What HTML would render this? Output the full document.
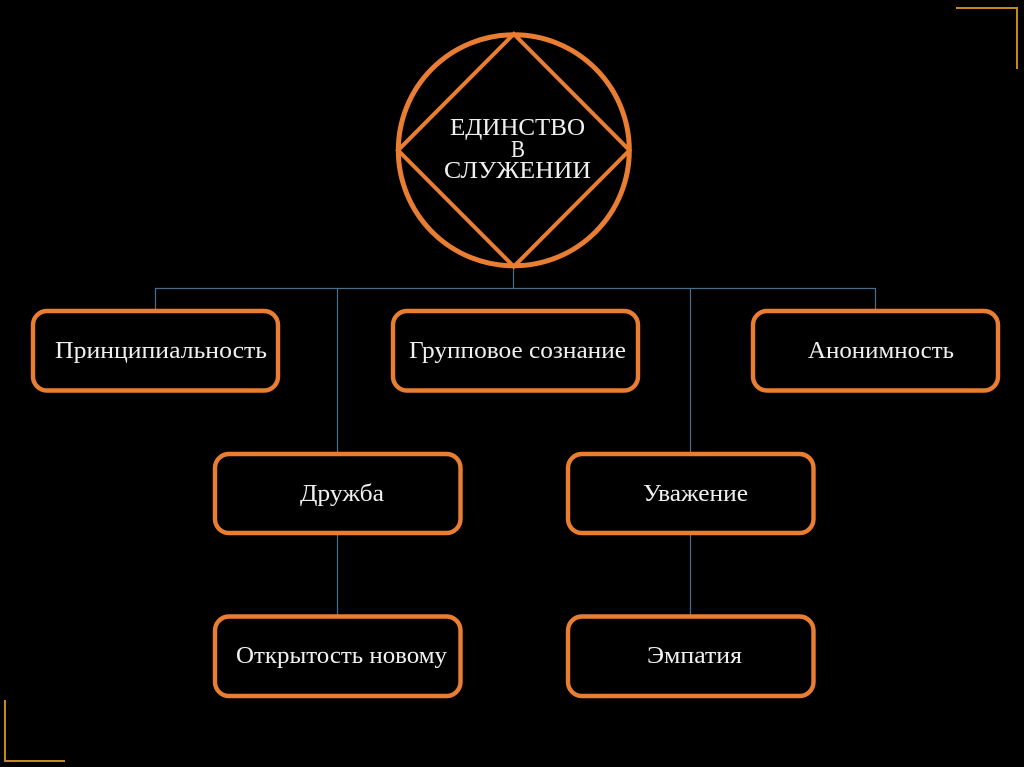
<!DOCTYPE html>
<html lang="ru">
<head>
<meta charset="utf-8">
<title>Единство в служении</title>
<style>
html,body{margin:0;padding:0;background:#000;width:1024px;height:767px;overflow:hidden}
svg{display:block}
text{font-family:"Liberation Serif","DejaVu Serif",serif;fill:#f0f0f0;font-size:24px}
</style>
</head>
<body>
<svg width="1024" height="767" viewBox="0 0 1024 767" xmlns="http://www.w3.org/2000/svg">
<rect width="1024" height="767" fill="#000"/>
<g fill="none" stroke="#c9851f" stroke-width="2">
<polyline points="956,8 1017,8 1017,69"/>
<polyline points="5,700 5,761 65,761"/>
</g>
<g fill="none" stroke="#4a6d8c" stroke-width="1.2">
<path d="M513.5 268V288.5M155.5 311V288.5H875.5V311M337.5 288.5V454M690.5 288.5V454M337.5 533V616M690.5 533V616"/>
</g>
<g fill="#000" stroke="#e97e32" stroke-width="4.4">
<rect x="33" y="311" width="245" height="79.5" rx="14"/>
<rect x="393" y="311" width="245" height="79.5" rx="14"/>
<rect x="753" y="311" width="245" height="79.5" rx="14"/>
<rect x="215" y="454" width="245.5" height="79" rx="14"/>
<rect x="568" y="454" width="245.5" height="79" rx="14"/>
<rect x="215" y="616.5" width="245.5" height="79.5" rx="14"/>
<rect x="568" y="616.5" width="245.5" height="79.5" rx="14"/>
</g>
<g fill="none" stroke="#e97e32">
<circle cx="513.8" cy="150.3" r="115.5" stroke-width="5"/>
<polygon points="513.8,34 629.5,150.3 513.8,266.5 398,150.3" stroke-width="4"/>
</g>
<text x="450" y="135" textLength="135" lengthAdjust="spacingAndGlyphs">ЕДИНСТВО</text>
<text x="511" y="157" textLength="14" lengthAdjust="spacingAndGlyphs">В</text>
<text x="444" y="178" textLength="147" lengthAdjust="spacingAndGlyphs">СЛУЖЕНИИ</text>
<text x="55" y="358" textLength="212" lengthAdjust="spacingAndGlyphs">Принципиальность</text>
<text x="409" y="358" textLength="217" lengthAdjust="spacingAndGlyphs">Групповое сознание</text>
<text x="808" y="358" textLength="146" lengthAdjust="spacingAndGlyphs">Анонимность</text>
<text x="300" y="501" textLength="84" lengthAdjust="spacingAndGlyphs">Дружба</text>
<text x="643" y="501" textLength="105" lengthAdjust="spacingAndGlyphs">Уважение</text>
<text x="236" y="663" textLength="211" lengthAdjust="spacingAndGlyphs">Открытость новому</text>
<text x="647" y="663" textLength="95" lengthAdjust="spacingAndGlyphs">Эмпатия</text>
</svg>
</body>
</html>
